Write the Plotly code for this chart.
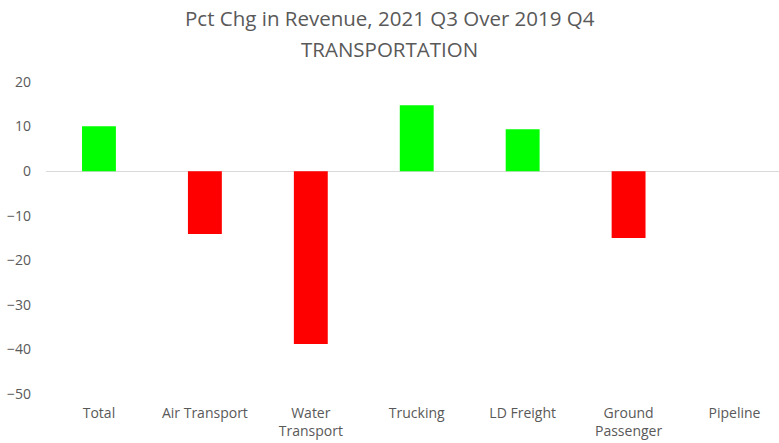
import plotly.graph_objects as go

categories = ["Total", "Air Transport", "Water<br>Transport", "Trucking", "LD Freight", "Ground<br>Passenger", "Pipeline"]
values = [10.1, -14.1, -38.8, 14.8, 9.4, -15.0, 0.0]
y_ticks = [20, 10, 0, -10, -20, -30, -40, -50]
title_lines = ["Pct Chg in Revenue, 2021 Q3 Over 2019 Q4", "TRANSPORTATION"]

colors = ["#00FF00" if v >= 0 else "#FF0000" for v in values]

fig = go.Figure(go.Bar(x=categories, y=values, marker_color=colors, width=0.32,
                       marker_line_width=0))

font_family = "Open Sans, Liberation Sans, sans-serif"
W, H = 779, 443
L, T = 46, 82
B = H - 394
ph = H - T - B
pw = W - L
cx = (389.5 - L) / pw
for txt, ypix in zip(title_lines, [18, 49]):
    fig.add_annotation(text=txt, xref="paper", yref="paper",
                       x=cx, y=1 + (T - ypix) / ph, xanchor="center", yanchor="middle",
                       showarrow=False,
                       font=dict(family=font_family, size=20.5, color="#595959"))

fig.update_layout(
    width=W, height=H,
    margin=dict(l=L, r=0, t=T, b=B, autoexpand=False),
    plot_bgcolor="white", paper_bgcolor="white",
    showlegend=False,
    font=dict(family=font_family, size=14, color="#595959"),
    xaxis=dict(range=[-0.5, 6.42], showgrid=False, showline=False, ticks="",
               automargin=False, ticklabelstandoff=9,
               tickfont=dict(size=14, color="#595959")),
    yaxis=dict(range=[-50, 20], tickvals=y_ticks, showgrid=False, showline=False,
               zeroline=True, zerolinecolor="#D9D9D9", zerolinewidth=1,
               ticks="", ticklabelstandoff=14, automargin=False,
               tickfont=dict(size=14, color="#595959")),
)

fig.write_html("out.html", config={"displayModeBar": False},
               post_script="document.body.style.margin='0';")
